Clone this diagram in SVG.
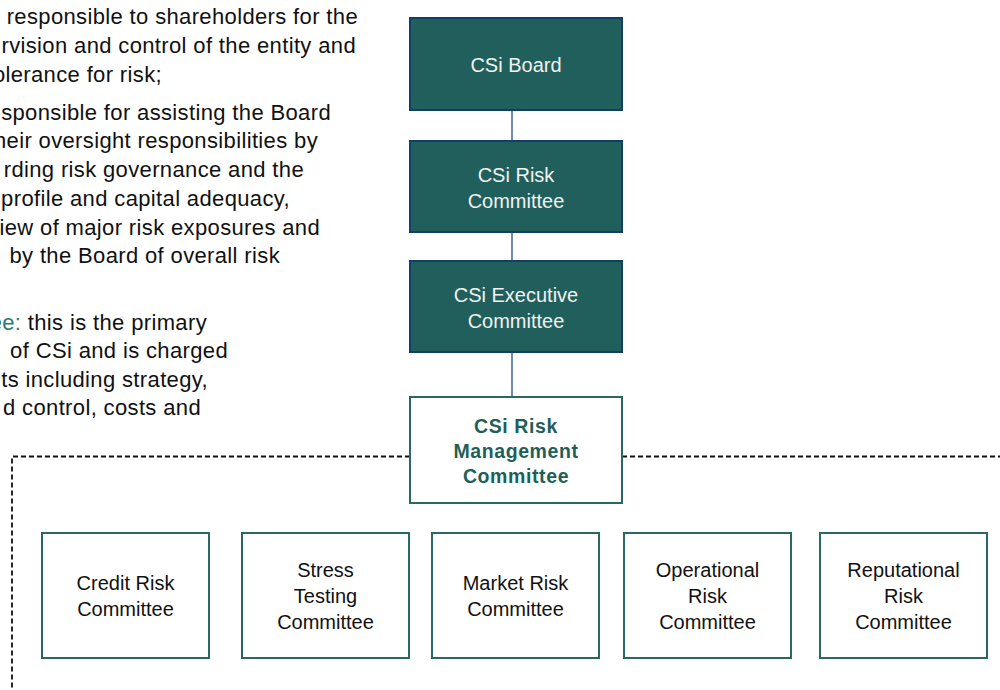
<svg xmlns="http://www.w3.org/2000/svg" width="1000" height="690" viewBox="0 0 1000 690">
<style>
.lt{font-family:"Liberation Sans",Arial,sans-serif;font-size:22px;fill:#111;letter-spacing:0.36px}
.top rect{fill:#215f5c;stroke:#123f66;stroke-width:2}
.top text{font-family:"Liberation Sans",Arial,sans-serif;font-size:20px;fill:#f2f2f2;text-anchor:middle}
.sub rect{fill:#fff;stroke:#2a6865;stroke-width:2}
.sub text{font-family:"Liberation Sans",Arial,sans-serif;font-size:20px;fill:#111;text-anchor:middle}
.rmc rect{fill:#fff;stroke:#2a6865;stroke-width:2}
.rmc text{font-family:"Liberation Sans",Arial,sans-serif;font-size:19.5px;font-weight:bold;fill:#1f5f5a;text-anchor:middle;letter-spacing:0.6px}
.conn{stroke:#3b6793;stroke-width:1.5;fill:none}
.dash{stroke:#111;stroke-width:1.8;stroke-dasharray:5 3;fill:none}
</style>
<rect width="1000" height="690" fill="#fff"/>
<g id="left-text" text-anchor="end">
<text class="lt" x="358" y="24">responsible to shareholders for the</text>
<text class="lt" x="356" y="53">rvision and control of the entity and</text>
<text class="lt" x="162" y="82">olerance for risk;</text>
<text class="lt" x="331" y="120">sponsible for assisting the Board</text>
<text class="lt" x="318" y="148">heir oversight responsibilities by</text>
<text class="lt" x="304" y="177">rding risk governance and the</text>
<text class="lt" x="290" y="206">profile and capital adequacy,</text>
<text class="lt" x="320" y="235">iew of major risk exposures and</text>
<text class="lt" x="280" y="263">by the Board of overall risk</text>
<text class="lt" x="207" y="330"><tspan fill="#2a7a72">ee:</tspan> this is the primary</text>
<text class="lt" x="228" y="358">of CSi and is charged</text>
<text class="lt" x="208" y="387">ts including strategy,</text>
<text class="lt" x="201" y="415">d control, costs and</text>
</g>
<g id="connectors">
<line class="conn" x1="512" y1="111" x2="512" y2="141"/>
<line class="conn" x1="512" y1="233" x2="512" y2="261"/>
<line class="conn" x1="512" y1="353" x2="512" y2="397"/>
<path class="dash" d="M410 456.5 H12 V690"/>
<path class="dash" d="M622 456.5 H1000"/>
</g>
<g id="board" class="top">
<rect x="410" y="18" width="212" height="92"/>
<text x="516" y="72">CSi Board</text>
</g>
<g id="risk-committee" class="top">
<rect x="410" y="141" width="212" height="91"/>
<text x="516" y="182">CSi Risk</text>
<text x="516" y="208">Committee</text>
</g>
<g id="exec-committee" class="top">
<rect x="410" y="261" width="212" height="91"/>
<text x="516" y="302">CSi Executive</text>
<text x="516" y="328">Committee</text>
</g>
<g id="rmc" class="rmc">
<rect x="410" y="397" width="212" height="106"/>
<text x="516" y="433">CSi Risk</text>
<text x="516" y="458">Management</text>
<text x="516" y="483">Committee</text>
</g>
<g id="credit" class="sub">
<rect x="42" y="533" width="167" height="125"/>
<text x="125.5" y="590">Credit Risk</text>
<text x="125.5" y="616">Committee</text>
</g>
<g id="stress" class="sub">
<rect x="242" y="533" width="167" height="125"/>
<text x="325.5" y="577">Stress</text>
<text x="325.5" y="603">Testing</text>
<text x="325.5" y="629">Committee</text>
</g>
<g id="market" class="sub">
<rect x="432" y="533" width="167" height="125"/>
<text x="515.5" y="590">Market Risk</text>
<text x="515.5" y="616">Committee</text>
</g>
<g id="operational" class="sub">
<rect x="624" y="533" width="167" height="125"/>
<text x="707.5" y="577">Operational</text>
<text x="707.5" y="603">Risk</text>
<text x="707.5" y="629">Committee</text>
</g>
<g id="reputational" class="sub">
<rect x="820" y="533" width="167" height="125"/>
<text x="903.5" y="577">Reputational</text>
<text x="903.5" y="603">Risk</text>
<text x="903.5" y="629">Committee</text>
</g>
</svg>
